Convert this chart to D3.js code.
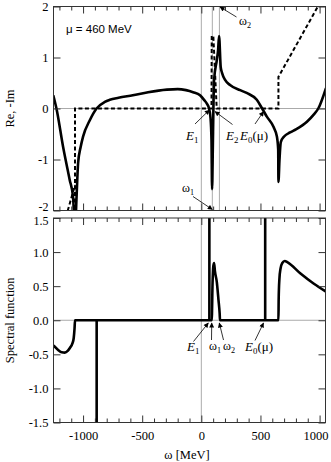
<!DOCTYPE html>
<html>
<head>
<meta charset="utf-8">
<script src="https://cdn.jsdelivr.net/npm/d3@7"></script>
<style>
body { margin: 0; background: #fff; }
text { font-family: "Liberation Serif", "Times New Roman", serif; fill: #000; }
</style>
</head>
<body>
<svg id="chart" width="331" height="462"></svg>
<script>
// ---- data (omega in MeV) ----
const X_DOMAIN = [-1250, 1050];
const xMajorTicks = [-1000, -500, 0, 500, 1000];
const topYTicks = [-2, -1, 0, 1, 2];
const bottomYTicks = [-1.5, -1.0, -0.5, 0.0, 0.5, 1.0, 1.5];

// Re (solid, upper panel)
const reCurve = [
	[-1252, 0.26], [-1225, 0], [-1169, -0.75], [-1113, -1.40], [-1085, -1.73], [-1068, -2.4],
	[-1056, -1.79], [-1042, -1.07], [-1020, -0.75], [-1000, -0.55], [-943, -0.23], [-886, 0],
	[-816, 0.13], [-774, 0.17], [-700, 0.21], [-579, 0.26], [-450, 0.32], [-291, 0.37],
	[-200, 0.38], [-130, 0.36], [-70, 0.32], [-11, 0.26], [23, 0.17], [48, 0.09], [65, 0],
	[78, -0.19], [86, -0.62], [91, -1.58], [97, -0.81], [102, -0.03], [108, 0.56], [131, 0.95],
	[142, 1.15], [150, 1.42], [164, 0.81], [175, 0.70], [201, 0.56], [243, 0.46], [328, 0.36],
	[388, 0.30], [469, 0.17], [514, 0], [554, -0.16], [610, -0.36], [639, -0.55], [650, -0.81],
	[652, -1.44], [661, -1.0], [672, -0.66], [700, -0.55], [750, -0.47], [800, -0.41],
	[893, -0.26], [950, -0.12], [989, 0], [1054, 0.40]
];

// -Im (dashed, upper panel)
const imLeftTail = [[-1160, -2.25], [-1068, -1.5]];
const imCurve = [
	[-1068, -2.1], [-1068, 0], [86, 0], [88, 1.43], [102, 1.40], [130, 0],
	[652, 0], [652, 0.62], [1000, 2.06]
];

// spectral function (solid, lower panel)
const spectralCurve = [
	[-1250, -0.37], [-1211, -0.435], [-1180, -0.47], [-1155, -0.475], [-1130, -0.45],
	[-1113, -0.41], [-1090, -0.34], [-1079, -0.26], [-1072, -0.12], [-1068, 0],
	[88, 0], [95, 0.55], [102, 0.8], [108, 0.84], [115, 0.72], [131, 0.56], [145, 0.3],
	[155, 0.1], [158, 0], [652, 0], [654, 0.3], [660, 0.6], [670, 0.76], [685, 0.84],
	[705, 0.87], [730, 0.85], [836, 0.69], [949, 0.54], [1054, 0.42]
];
// delta-function spikes in the spectral function
const deltaOmega = [-885, 68, 540];
const deltaSign = [-1, 1, 1];

// thin gray guide lines: omega = 0, omega1, omega2
const topGuides = [0, 93, 153];
const bottomGuides = [0];

// ---- layout ----
const PLOT_LEFT = 53.5, PLOT_RIGHT = 325.5;
const SERIF = '"Liberation Serif", "Times New Roman", serif';
const svg = d3.select('#chart');

const x = d3.scaleLinear(X_DOMAIN, [PLOT_LEFT, PLOT_RIGHT]);
const yTop = d3.scaleLinear([-2, 2], [210.5, 6.5]);
const yBot = d3.scaleLinear([-1.5, 1.5], [422.5, 218]);

const minorTicks = d3.range(-1200, 1001, 100).filter((v) => v % 500 !== 0);
const hyphen = (f) => (d) => f(d).replace('\u2212', '-');

function styleTicks(a) {
	a.select('.domain').remove();
	a.selectAll('line').attr('stroke', '#333');
	a.selectAll('text').style('font-family', SERIF).style('font-size', '12.5px');
}

function drawPanel(y, yTicks, yFormat, xLabels, clipId) {
	const [y0, y1] = y.range();
	const g = svg.append('g');

	svg.append('clipPath').attr('id', clipId)
		.append('rect')
		.attr('x', PLOT_LEFT).attr('y', y1)
		.attr('width', PLOT_RIGHT - PLOT_LEFT).attr('height', y0 - y1);

	const plot = g.append('g').attr('clip-path', 'url(#' + clipId + ')');

	// gray zero line
	plot.append('line')
		.attr('x1', PLOT_LEFT).attr('x2', PLOT_RIGHT)
		.attr('y1', y(0)).attr('y2', y(0))
		.attr('stroke', '#a0a0a0').attr('stroke-width', 0.9);

	// axes (ticks pointing inwards)
	const axes = [
		[d3.axisBottom(x).tickValues(xMajorTicks).tickSize(-7).tickPadding(9), y0, xLabels],
		[d3.axisBottom(x).tickValues(minorTicks).tickSize(-4), y0, false],
		[d3.axisTop(x).tickValues(xMajorTicks).tickSize(-7), y1, false],
		[d3.axisTop(x).tickValues(minorTicks).tickSize(-4), y1, false]
	];
	axes.forEach(([ax, pos, labels]) => {
		ax.tickSizeOuter(0).tickFormat(labels ? hyphen(d3.format('d')) : '');
		const a = g.append('g').attr('transform', 'translate(0,' + pos + ')').call(ax);
		styleTicks(a);
		// keep the last label inside the picture
		a.selectAll('text').filter((d) => d === 1000).attr('dx', -4);
	});
	const left = g.append('g').attr('transform', 'translate(' + PLOT_LEFT + ',0)')
		.call(d3.axisLeft(y).tickValues(yTicks).tickSize(-7).tickSizeOuter(0).tickPadding(5)
			.tickFormat(hyphen(yFormat)));
	styleTicks(left);
	const right = g.append('g').attr('transform', 'translate(' + PLOT_RIGHT + ',0)')
		.call(d3.axisRight(y).tickValues(yTicks).tickSize(-7).tickSizeOuter(0).tickFormat(''));
	styleTicks(right);

	g.append('rect')
		.attr('x', PLOT_LEFT).attr('y', y1)
		.attr('width', PLOT_RIGHT - PLOT_LEFT).attr('height', y0 - y1)
		.attr('fill', 'none').attr('stroke', '#333').attr('stroke-width', 1);

	return { plot: plot, left: left };
}

const topPanel = drawPanel(yTop, topYTicks, d3.format('d'), false, 'clip-top');
const botPanel = drawPanel(yBot, bottomYTicks, d3.format('.1f'), true, 'clip-bottom');
const topPlot = topPanel.plot;
const botPlot = botPanel.plot;

// the two panels touch: nudge the end labels apart like the original
topPanel.left.selectAll('text').filter((d) => d === -2)
	.attr('dy', '0em').style('font-size', '12px');
botPanel.left.selectAll('text').filter((d) => d === 1.5)
	.attr('dy', '0.58em').style('font-size', '12px');

// guide lines
topPlot.selectAll('line.guide').data(topGuides).enter().append('line')
	.attr('class', 'guide')
	.attr('x1', (d) => x(d)).attr('x2', (d) => x(d))
	.attr('y1', yTop(2)).attr('y2', yTop(-2))
	.attr('stroke', '#a0a0a0').attr('stroke-width', 0.9);
botPlot.selectAll('line.guide').data(bottomGuides).enter().append('line')
	.attr('class', 'guide')
	.attr('x1', (d) => x(d)).attr('x2', (d) => x(d))
	.attr('y1', yBot(1.5)).attr('y2', yBot(-1.5))
	.attr('stroke', '#a0a0a0').attr('stroke-width', 0.9);

// curves
const lineTop = d3.line().x((d) => x(d[0])).y((d) => yTop(d[1]));
const lineTopSmooth = d3.line().x((d) => x(d[0])).y((d) => yTop(d[1])).curve(d3.curveMonotoneX);
const lineBotSmooth = d3.line().x((d) => x(d[0])).y((d) => yBot(d[1])).curve(d3.curveMonotoneX);

[imLeftTail, imCurve].forEach((pts) => {
	topPlot.append('path').datum(pts)
		.attr('d', lineTop)
		.attr('fill', 'none').attr('stroke', '#000').attr('stroke-width', 2)
		.attr('stroke-dasharray', '4,2.5');
});
topPlot.append('path').datum(reCurve)
	.attr('d', lineTopSmooth)
	.attr('fill', 'none').attr('stroke', '#000').attr('stroke-width', 2.6)
	.attr('stroke-linejoin', 'round');

botPlot.append('path').datum(spectralCurve)
	.attr('d', lineBotSmooth)
	.attr('fill', 'none').attr('stroke', '#000').attr('stroke-width', 2.6)
	.attr('stroke-linejoin', 'round');
botPlot.selectAll('line.delta').data(deltaOmega).enter().append('line')
	.attr('class', 'delta')
	.attr('x1', (d) => x(d)).attr('x2', (d) => x(d))
	.attr('y1', yBot(0)).attr('y2', (d, i) => yBot(deltaSign[i] * 1.7))
	.attr('stroke', '#000').attr('stroke-width', 2.6);

// ---- annotations ----
svg.append('defs').append('marker')
	.attr('id', 'arrow').attr('viewBox', '0 0 10 10').attr('refX', 9).attr('refY', 5)
	.attr('markerUnits', 'userSpaceOnUse').attr('markerWidth', 6).attr('markerHeight', 5)
	.attr('orient', 'auto')
	.append('path').attr('d', 'M0,0L10,5L0,10z').attr('fill', '#000');

function label(xPos, yPos, base, sub, tail, italic, size) {
	const t = svg.append('text').attr('x', xPos).attr('y', yPos).attr('font-size', size);
	t.append('tspan').text(base).attr('font-style', italic ? 'italic' : null);
	t.append('tspan').text(sub).attr('font-size', size * 0.68).attr('dy', 3);
	if (tail) t.append('tspan').text(tail).attr('dy', -3);
}
function arrow(from, to) {
	svg.append('line')
		.attr('x1', from[0]).attr('y1', from[1]).attr('x2', to[0]).attr('y2', to[1])
		.attr('stroke', '#000').attr('stroke-width', 0.8).attr('marker-end', 'url(#arrow)');
}

// upper panel
label(186, 140, 'E', '1', '', true, 13);
arrow([195, 124], [x(68), yTop(-0.03)]);
label(226, 140, 'E', '2', '', true, 13);
arrow([232.5, 124.5], [x(116), yTop(-0.06)]);
label(240, 140, 'E', '0', '(μ)', true, 13);
arrow([255, 124], [x(526), yTop(-0.06)]);
label(182, 192, 'ω', '1', '', false, 12);
arrow([193, 196.5], [x(93), yTop(-1.98)]);
label(239, 25, 'ω', '2', '', false, 12);
arrow([236.5, 17], [x(158), yTop(1.99)]);

// lower panel
label(187, 351, 'E', '1', '', true, 13);
arrow([193.5, 341.5], [x(59), yBot(-0.04)]);
label(209, 350, 'ω', '1', '', false, 12);
arrow([211.5, 340], [x(88), yBot(-0.04)]);
label(223, 350, 'ω', '2', '', false, 12);
arrow([223.5, 340], [x(152), yBot(-0.04)]);
label(245, 351, 'E', '0', '(μ)', true, 13);
arrow([255, 340.5], [x(526), yBot(-0.04)]);

// panel text
svg.append('text').attr('x', 66).attr('y', 33)
	.attr('font-size', 11.5)
	.style('font-family', '"Liberation Sans", Arial, sans-serif')
	.text('μ = 460 MeV');

svg.append('text')
	.attr('transform', 'translate(14,' + yTop(0) + ') rotate(-90)')
	.attr('text-anchor', 'middle').attr('font-size', 12.5)
	.text('Re, -Im');
svg.append('text')
	.attr('transform', 'translate(14,' + yBot(0) + ') rotate(-90)')
	.attr('text-anchor', 'middle').attr('font-size', 12.5)
	.text('Spectral function');
svg.append('text')
	.attr('x', 187).attr('y', 459)
	.attr('text-anchor', 'middle').attr('font-size', 12.5)
	.text('ω [MeV]');
</script>
</body>
</html>
